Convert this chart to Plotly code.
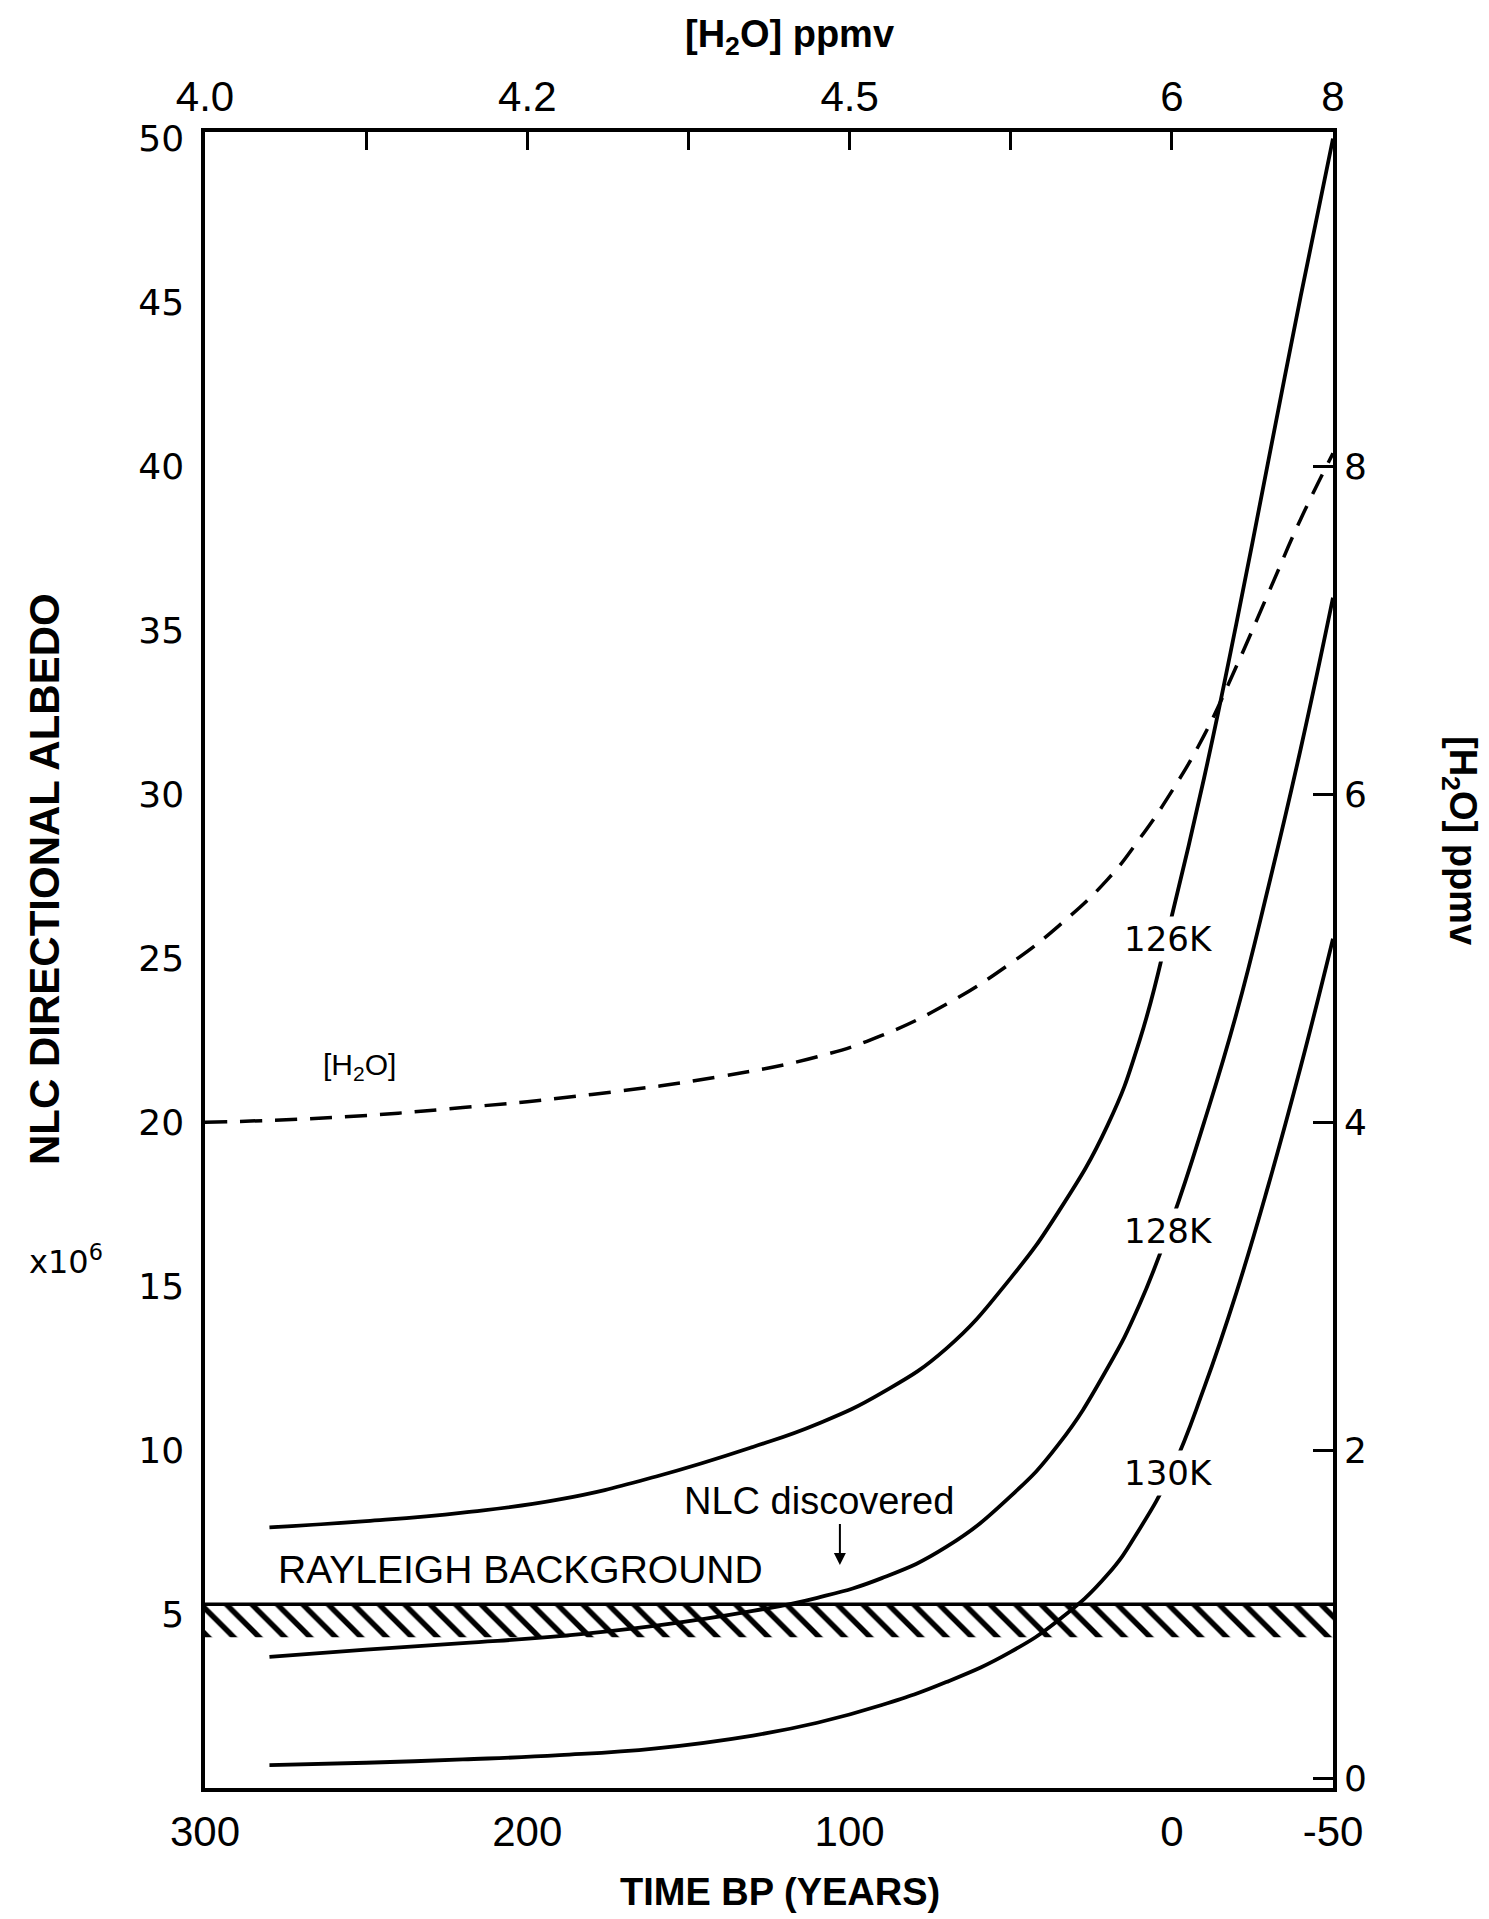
import plotly.graph_objects as go

# ---------------- data ----------------
time_curves = [280, 250, 220, 190, 160, 130, 110, 90, 70, 50, 35, 20, 10, 0, -10, -20, -30, -40, -50]
alb_126 = [7.65, 7.84, 8.1, 8.5, 9.2, 10.1, 10.8, 11.75, 13.1, 15.25, 17.3, 19.9, 22.5, 26.3, 30.5, 35.2, 40.2, 45.2, 50.0]
alb_128 = [3.7, 3.92, 4.12, 4.33, 4.65, 5.1, 5.5, 6.1, 7.05, 8.6, 10.2, 12.5, 14.45, 17.0, 20.0, 23.3, 27.2, 31.4, 36.0]
alb_130 = [0.4, 0.47, 0.57, 0.7, 0.91, 1.3, 1.69, 2.23, 2.93, 3.85, 4.83, 6.2, 7.6, 9.4, 11.9, 14.8, 18.1, 21.7, 25.6]

time_h2o = [300, 260, 220, 180, 140, 110, 90, 70, 50, 35, 20, 10, 0, -10, -20, -30, -40, -50]
h2o_ppmv = [4.00, 4.03, 4.09, 4.17, 4.28, 4.40, 4.53, 4.72, 4.97, 5.20, 5.48, 5.73, 6.02, 6.36, 6.78, 7.23, 7.68, 8.08]

rayleigh_time = [300, -50]
rayleigh_top = 5.3
rayleigh_bottom = 4.3

bottom_tickvals = [300, 200, 100, 0, -50]
bottom_ticktext = ["300", "200", "100", "0", "-50"]
top_tickvals = [300, 200, 100, 0, -50]
top_ticktext = ["4.0", "4.2", "4.5", "6", "8"]
top_minor_tickvals = [250, 150, 50]
left_tickvals = [5, 10, 15, 20, 25, 30, 35, 40, 45, 50]
right_tickvals = [0, 2, 4, 6, 8]

curve_labels = [("126K", 1, 25.6), ("128K", 1, 16.7), ("130K", 1, 9.3)]

# ---------------- figure ----------------
W, H = 1489, 1919
L, R, T, B = 197, 1325, 124, 1780

NARROW = "Liberation Sans Narrow, Arial Narrow, Liberation Sans, Arial"
SANS = "Liberation Sans, Arial, Helvetica"
WIDE = "DejaVu Sans, Verdana, sans-serif"

fig = go.Figure()

# Rayleigh background hatched band
fig.add_trace(go.Scatter(
    x=[rayleigh_time[0], rayleigh_time[1], rayleigh_time[1], rayleigh_time[0], rayleigh_time[0]],
    y=[rayleigh_top, rayleigh_top, rayleigh_bottom, rayleigh_bottom, rayleigh_top],
    mode="lines", fill="toself", line=dict(width=0, color="rgba(0,0,0,0)"),
    fillcolor="white",
    fillpattern=dict(shape="\\", fgcolor="black", fgopacity=1, bgcolor="white", size=18, solidity=0.3),
    hoverinfo="skip", showlegend=False))
fig.add_trace(go.Scatter(
    x=rayleigh_time, y=[rayleigh_top, rayleigh_top], mode="lines",
    line=dict(color="black", width=3.5), showlegend=False, name="Rayleigh"))

for aa, nm in [(alb_126, "126K"), (alb_128, "128K"), (alb_130, "130K")]:
    fig.add_trace(go.Scatter(x=time_curves, y=aa, mode="lines", name=nm,
                             line=dict(color="black", width=3.8, shape="spline", smoothing=1.3),
                             showlegend=False))

fig.add_trace(go.Scatter(x=time_h2o, y=h2o_ppmv, mode="lines", name="[H2O]",
                         xaxis="x2", yaxis="y2",
                         line=dict(color="black", width=3.5, dash="22px,13px", shape="spline", smoothing=1.3),
                         showlegend=False))

axis_common = dict(showgrid=False, zeroline=False, showline=True, linecolor="black",
                   linewidth=3.5)

fig.update_layout(
    width=W, height=H,
    margin=dict(l=L, r=W - R, t=T, b=H - B),
    paper_bgcolor="white", plot_bgcolor="white",
    showlegend=False,
    xaxis=dict(range=[300, -50], tickvals=bottom_tickvals, ticktext=bottom_ticktext,
               ticks="outside", ticklen=4, tickcolor="rgba(0,0,0,0)",
               tickfont=dict(family=NARROW, size=42, color="black"), **axis_common),
    xaxis2=dict(range=[300, -50], overlaying="x", side="top", tickvals=top_tickvals,
                ticktext=top_ticktext, ticks="inside", ticklen=18, tickwidth=3, tickcolor="black",
                minor=dict(tickmode="array", tickvals=top_minor_tickvals, ticks="inside",
                           ticklen=18, tickwidth=3, tickcolor="black"),
                tickfont=dict(family=NARROW, size=42, color="black"), **axis_common),
    yaxis=dict(range=[-0.3, 50.2], tickvals=left_tickvals, ticks="outside", ticklen=10,
               tickcolor="rgba(0,0,0,0)",
               tickfont=dict(family=WIDE, size=36, color="black"), **axis_common),
    yaxis2=dict(range=[-0.06, 10.04], overlaying="y", side="right", tickvals=right_tickvals,
                ticks="inside", ticklen=20, tickwidth=3, tickcolor="black",
                tickfont=dict(family=WIDE, size=36, color="black"), **axis_common),
)


def px_to_paper_x(px):
    return (px - L) / (R - L)


def px_to_paper_y(py):
    return (B - py) / (B - T)


ann = []
# axis titles (centres in page pixels)
ann.append(dict(text="<b>TIME BP (YEARS)</b>", xref="paper", yref="paper",
                x=px_to_paper_x(772), y=px_to_paper_y(1884), xanchor="center", yanchor="middle",
                showarrow=False, font=dict(family=NARROW, size=38, color="black")))
ann.append(dict(text="<b>[H<sub>2</sub>O] ppmv</b>", xref="paper", yref="paper",
                x=px_to_paper_x(781), y=px_to_paper_y(29), xanchor="center", yanchor="middle",
                showarrow=False, font=dict(family=NARROW, size=38, color="black")))
ann.append(dict(text="<b>NLC DIRECTIONAL ALBEDO</b>", xref="paper", yref="paper",
                x=px_to_paper_x(36), y=px_to_paper_y(871), xanchor="center", yanchor="middle",
                textangle=-90, showarrow=False, font=dict(family=NARROW, size=42, color="black")))
ann.append(dict(text="<b>[H<sub>2</sub>O] ppmv</b>", xref="paper", yref="paper",
                x=px_to_paper_x(1452), y=px_to_paper_y(832), xanchor="center", yanchor="middle",
                textangle=90, showarrow=False, font=dict(family=NARROW, size=38, color="black")))
ann.append(dict(text="x10<sup>6</sup>", xref="paper", yref="paper",
                x=px_to_paper_x(58), y=px_to_paper_y(1252), xanchor="center", yanchor="middle",
                showarrow=False, font=dict(family=WIDE, size=32, color="black")))
# in-plot labels
for txt, xx, yy in curve_labels:
    ann.append(dict(text=txt, x=xx, y=yy, xref="x", yref="y", showarrow=False,
                    bgcolor="white", borderpad=2, font=dict(family=WIDE, size=34, color="black")))
ann.append(dict(text="[H<sub>2</sub>O]", x=252, y=21.7, xref="x", yref="y", showarrow=False,
                font=dict(family=SANS, size=30, color="black")))
ann.append(dict(text="RAYLEIGH BACKGROUND", x=278, y=6.35, xref="x", yref="y", xanchor="left",
                showarrow=False, font=dict(family=SANS, size=39, color="black")))
ann.append(dict(text="NLC discovered", x=109.5, y=8.45, xref="x", yref="y", showarrow=False,
                font=dict(family=SANS, size=38, color="black")))
ann.append(dict(text="", x=103, y=6.5, ax=103, ay=7.8, xref="x", yref="y", axref="x", ayref="y",
                showarrow=True, arrowhead=2, arrowsize=1.2, arrowwidth=2, arrowcolor="black"))
fig.update_layout(annotations=ann)

fig.write_html("out.html")
